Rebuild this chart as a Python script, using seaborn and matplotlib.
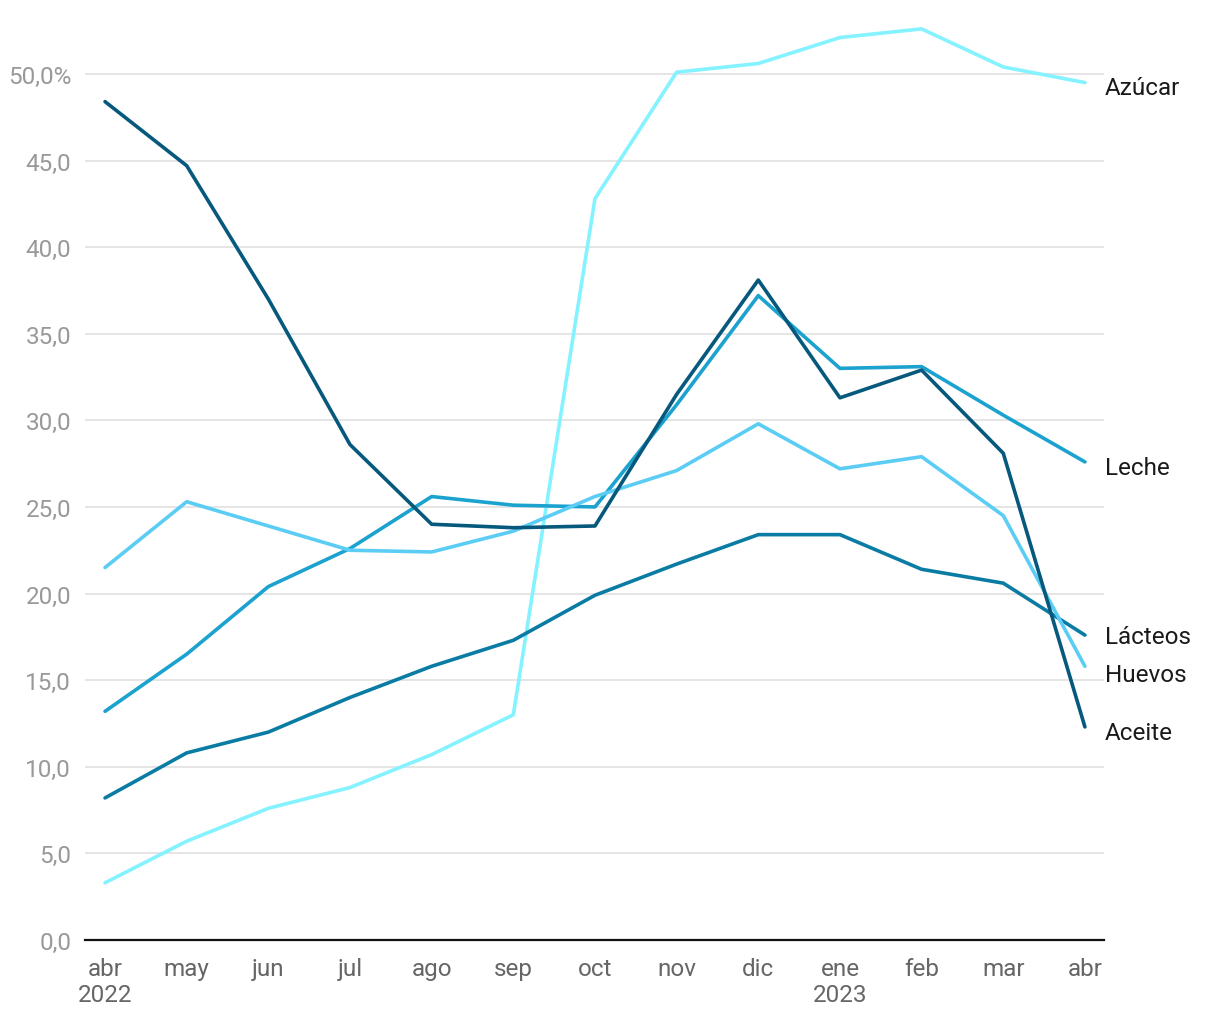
import matplotlib
matplotlib.use("Agg")
import matplotlib.pyplot as plt
import seaborn as sns
import pandas as pd

months = ["abr\n2022", "may", "jun", "jul", "ago", "sep", "oct",
          "nov", "dic", "ene\n2023", "feb", "mar", "abr"]

azucar = [3.3, 5.7, 7.6, 8.8, 10.7, 13.0, 42.8, 50.1, 50.6, 52.1, 52.6, 50.4, 49.5]
aceite = [48.4, 44.7, 37.0, 28.6, 24.0, 23.8, 23.9, 31.5, 38.1, 31.3, 32.9, 28.1, 12.3]
leche = [13.2, 16.5, 20.4, 22.6, 25.6, 25.1, 25.0, 30.9, 37.2, 33.0, 33.1, 30.3, 27.6]
huevos = [21.5, 25.3, 23.9, 22.5, 22.4, 23.6, 25.6, 27.1, 29.8, 27.2, 27.9, 24.5, 15.8]
lacteos = [8.2, 10.8, 12.0, 14.0, 15.8, 17.3, 19.9, 21.7, 23.4, 23.4, 21.4, 20.6, 17.6]

series = {"Azúcar": azucar, "Leche": leche, "Lácteos": lacteos,
          "Huevos": huevos, "Aceite": aceite}
colors = {"Azúcar": "#84F2FF", "Huevos": "#5BCDF5", "Leche": "#1BA2CF",
          "Lácteos": "#0A7CA4", "Aceite": "#06597C"}
# small nudges so the end labels don't collide
label_dy = {"Azúcar": -0.3, "Leche": -0.3, "Lácteos": -0.1,
            "Huevos": -0.5, "Aceite": -0.3}

rows = []
for name, vals in series.items():
    for i, v in enumerate(vals):
        rows.append({"mes": i, "valor": v, "serie": name})
df = pd.DataFrame(rows)

sns.set_style("white")
plt.rcParams["font.family"] = ["Roboto", "DejaVu Sans"]

fig = plt.figure(figsize=(12.2, 10.2), dpi=100)
ax = fig.add_axes([0.0697, 0.0775, 0.8353, 0.9])

sns.lineplot(data=df, x="mes", y="valor", hue="serie", palette=colors,
             linewidth=2.6, legend=False, ax=ax, zorder=3)

for name, vals in series.items():
    ax.text(len(vals) - 1 + 0.24, vals[-1] + label_dy[name], name,
            fontsize=17.5, color="#1a1a1a", va="center", ha="left")

ax.set_xlim(-0.245, 12.235)
ax.set_ylim(0, 53)
ax.set_yticks(range(0, 51, 5))
ax.set_yticklabels([f"{v},0" if v < 50 else f"{v},0%" for v in range(0, 51, 5)])
ax.set_xticks(range(len(months)))
ax.set_xticklabels(months, linespacing=1.2)

ax.grid(axis="y", color="#e3e3e3", linewidth=1.3, zorder=0)
ax.grid(axis="x", visible=False)
for s in ["top", "right", "left"]:
    ax.spines[s].set_visible(False)
ax.spines["bottom"].set_color("#111111")
ax.spines["bottom"].set_linewidth(1.6)

ax.tick_params(axis="y", length=0, pad=10, labelsize=17.5, labelcolor="#999999")
ax.tick_params(axis="x", length=0, pad=12, labelsize=17.5, labelcolor="#666666")
ax.set_xlabel("")
ax.set_ylabel("")

fig.savefig("out.png", dpi=100)
